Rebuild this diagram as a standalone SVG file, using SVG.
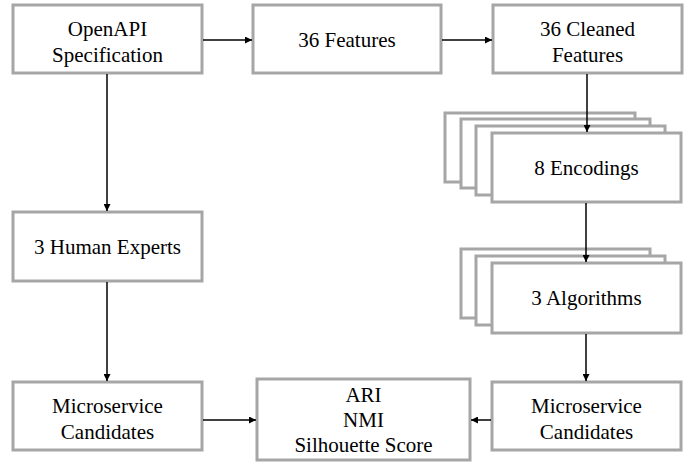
<svg xmlns="http://www.w3.org/2000/svg" width="697" height="462" viewBox="0 0 697 462">
  <style>
    .box { fill: #ffffff; stroke: #a6a6a6; stroke-width: 3; }
    .lbl { font-size: 21px; fill: #000; text-anchor: middle; }
    .edge { stroke: #000; stroke-width: 1.5; fill: none; marker-end: url(#arr); }
  </style>
  <defs>
    <marker id="arr" viewBox="0 0 10 10" refX="10" refY="5" markerWidth="8" markerHeight="7" markerUnits="userSpaceOnUse" orient="auto">
      <path d="M0,0 L10,5 L0,10 z" fill="#000"/>
    </marker>
  </defs>

  <rect width="697" height="462" fill="#ffffff"/>

  <g font-family="Liberation Serif, Times New Roman, DejaVu Serif, serif">
  <g id="openapi">
    <rect class="box" x="13" y="5" width="189" height="68"/>
    <text class="lbl" x="107.5" y="36">OpenAPI</text>
    <text class="lbl" x="107.5" y="62">Specification</text>
  </g>

  <g id="features">
    <rect class="box" x="253" y="5" width="188" height="68"/>
    <text class="lbl" x="347" y="47">36 Features</text>
  </g>

  <g id="cleaned">
    <rect class="box" x="493" y="5" width="189" height="68"/>
    <text class="lbl" x="587.5" y="36">36 Cleaned</text>
    <text class="lbl" x="587.5" y="62">Features</text>
  </g>

  <g id="encodings">
    <rect class="box" x="445" y="113" width="190" height="69"/>
    <rect class="box" x="461" y="119" width="189" height="69"/>
    <rect class="box" x="476" y="126" width="189" height="69"/>
    <rect class="box" x="492" y="133" width="189" height="69"/>
    <text class="lbl" x="586.5" y="175">8 Encodings</text>
  </g>

  <g id="algorithms">
    <rect class="box" x="461" y="249" width="189" height="69"/>
    <rect class="box" x="476" y="256" width="189" height="69"/>
    <rect class="box" x="492" y="263" width="189" height="70"/>
    <text class="lbl" x="586.5" y="305">3 Algorithms</text>
  </g>

  <g id="experts">
    <rect class="box" x="13" y="212" width="189" height="69"/>
    <text class="lbl" x="107.5" y="254">3 Human Experts</text>
  </g>

  <g id="candidates-left">
    <rect class="box" x="13" y="382" width="189" height="68"/>
    <text class="lbl" x="107.5" y="413">Microservice</text>
    <text class="lbl" x="107.5" y="439">Candidates</text>
  </g>

  <g id="metrics">
    <rect class="box" x="257" y="379" width="213" height="81"/>
    <text class="lbl" x="363.5" y="402">ARI</text>
    <text class="lbl" x="363.5" y="427">NMI</text>
    <text class="lbl" x="363.5" y="452">Silhouette Score</text>
  </g>

  <g id="candidates-right">
    <rect class="box" x="492" y="382" width="189" height="68"/>
    <text class="lbl" x="586.5" y="413">Microservice</text>
    <text class="lbl" x="586.5" y="439">Candidates</text>
  </g>
  </g>

  <g id="connectors">
    <line class="edge" x1="203" y1="40" x2="252" y2="40"/>
    <line class="edge" x1="442" y1="40" x2="492" y2="40"/>
    <line class="edge" x1="107" y1="74" x2="107" y2="211"/>
    <line class="edge" x1="107" y1="282" x2="107" y2="381"/>
    <line class="edge" x1="587" y1="74" x2="587" y2="132"/>
    <line class="edge" x1="586" y1="203" x2="586" y2="262"/>
    <line class="edge" x1="586" y1="334" x2="586" y2="381"/>
    <line class="edge" x1="203" y1="420" x2="256" y2="420"/>
    <line class="edge" x1="491" y1="420" x2="471" y2="420"/>
  </g>
</svg>
